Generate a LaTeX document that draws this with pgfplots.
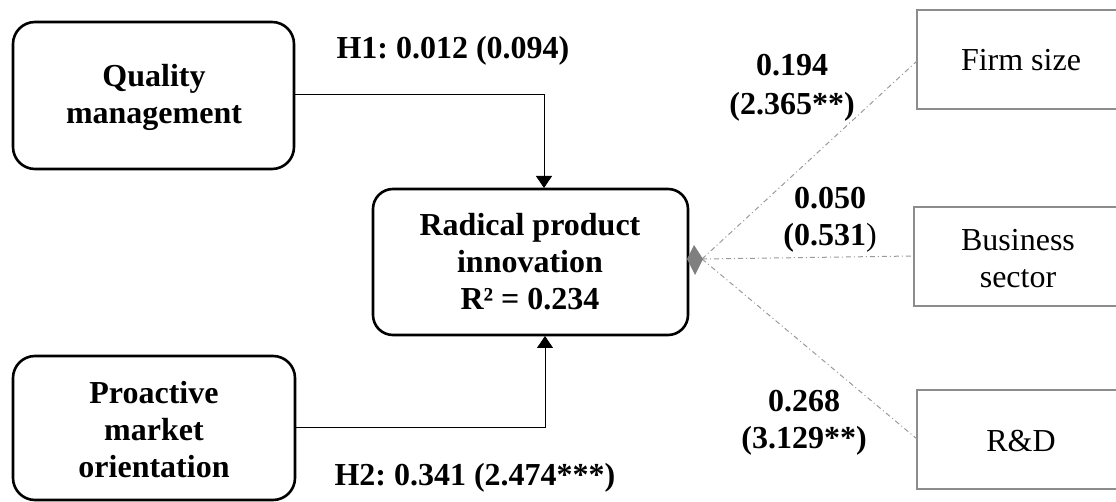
\documentclass[border=0pt]{standalone}
\usepackage{fontspec}
\setmainfont{Liberation Serif}
\usepackage{pgfplots}
\pgfplotsset{compat=1.18}
\usetikzlibrary{arrows.meta}
\definecolor{boxgray}{HTML}{8C8C8C}
\definecolor{linegray}{HTML}{9A9A9A}
\definecolor{diagray}{HTML}{7F7F7F}
\frenchspacing
\tikzset{bt/.style={align=center, font=\fontsize{16}{18.5}\selectfont\bfseries},
         rt/.style={align=center, font=\fontsize{16}{18.5}\selectfont}}
\begin{document}
\begin{tikzpicture}
\begin{axis}[scale only axis, width=558pt, height=251pt,
  xmin=0, xmax=1116, ymin=0, ymax=502, y dir=reverse,
  hide axis, clip=false, no markers]
% rounded boxes (black)
\addplot[black, line width=1.3pt, rounded corners=11pt] coordinates {(13,22)(294,22)(294,169)(13,169)} -- cycle;
\addplot[black, line width=1.3pt, rounded corners=11pt] coordinates {(13,356)(295,356)(295,500)(13,500)} -- cycle;
\addplot[black, line width=1.3pt, rounded corners=10pt] coordinates {(373,189)(688,189)(688,335)(373,335)} -- cycle;
% arrows
\addplot[black, line width=0.5pt, -{Triangle[width=8pt,length=6pt]}] coordinates {(294,95)(544,95)(544,188)};
\addplot[black, line width=0.5pt, -{Triangle[width=8pt,length=6pt]}] coordinates {(295,428)(545,428)(545,336)};
% control boxes (gray, open on the right)
\addplot[boxgray, line width=1.2pt] coordinates {(1117,10)(917,10)(917,109)(1117,109)};
\addplot[boxgray, line width=1.2pt] coordinates {(1117,207)(914,207)(914,306)(1117,306)};
\addplot[boxgray, line width=1.2pt] coordinates {(1117,390)(917,390)(917,489)(1117,489)};
% dash-dot connectors
\addplot[linegray, line width=0.5pt, dash pattern=on 2.5pt off 1.5pt on 0.5pt off 1.5pt] coordinates {(702,259)(917,61)};
\addplot[linegray, line width=0.5pt, dash pattern=on 2.5pt off 1.5pt on 0.5pt off 1.5pt] coordinates {(702,259)(914,256)};
\addplot[linegray, line width=0.5pt, dash pattern=on 2.5pt off 1.5pt on 0.5pt off 1.5pt] coordinates {(702,259)(917,439)};
% diamond
\addplot[fill=diagray, draw=none] coordinates {(687,259)(694,245)(703,259)(695,275)} -- cycle;
% texts
\node[bt] at (axis cs:154,97) {Quality\\management};
\node[bt] at (axis cs:154,430) {Proactive\\market\\orientation};
\node[bt] at (axis cs:530,262) {Radical product\\innovation\\R² = 0.234};
\node[bt] at (axis cs:453,51) {H1: 0.012 (0.094)};
\node[bt] at (axis cs:475,478) {H2: 0.341 (2.474***)};
\node[bt, font=\fontsize{16}{19.5}\selectfont\bfseries] at (axis cs:792,88) {0.194\\(2.365**)};
\node[bt] at (axis cs:830,220) {0.050\\(0.531{\mdseries)}};
\node[bt] at (axis cs:804,423) {0.268\\(3.129**)};
\node[rt] at (axis cs:1021,60) {Firm size};
\node[rt] at (axis cs:1018,259) {Business\\sector};
\node[rt] at (axis cs:1021,441) {R\&D};
\end{axis}
\pgfresetboundingbox
\path[use as bounding box] (current axis.south west) rectangle (current axis.north east);
\end{tikzpicture}
\end{document}
